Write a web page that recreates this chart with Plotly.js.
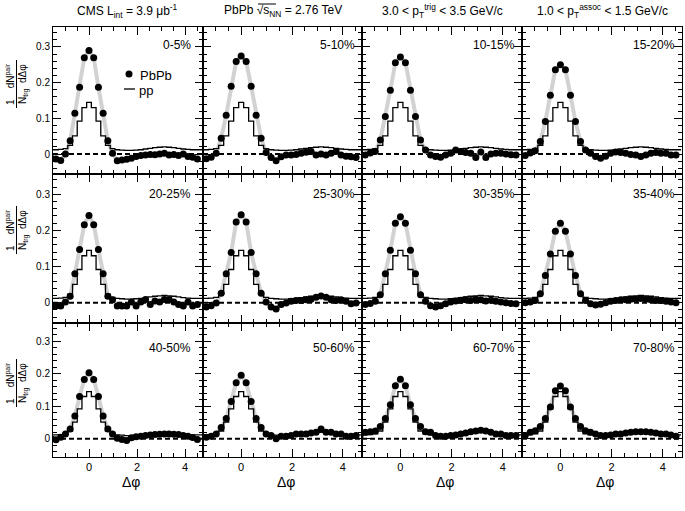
<!DOCTYPE html>
<html>
<head>
<meta charset="utf-8">
<script src="https://cdn.plot.ly/plotly-3.0.1.min.js"></script>
<style>html,body{margin:0;padding:0;background:#fff;}#chart{width:685px;height:511px;}</style>
</head>
<body>
<div id="chart"></div>
<script>
// Bin centres in delta-phi (k*pi/16)
const dphi = [-1.5708,-1.3744,-1.1781,-0.9817,-0.7854,-0.5890,-0.3927,-0.1963,0,0.1963,0.3927,0.5890,0.7854,0.9817,1.1781,1.3744,1.5708,1.7671,1.9635,2.1598,2.3562,2.5525,2.7489,2.9452,3.1416,3.3379,3.5343,3.7306,3.9270,4.1233,4.3197,4.5160];
const dphiPP = [-1.5708,-1.3744,-1.1781,-0.9817,-0.7854,-0.5890,-0.3927,-0.1963,0,0.1963,0.3927,0.5890,0.7854,0.9817,1.1781,1.3744,1.5708,1.7671,1.9635,2.1598,2.3562,2.5525,2.7489,2.9452,3.1416,3.3379,3.5343,3.7306,3.9270,4.1233,4.3197,4.5160,4.7124];
// pp reference (histogram)
const ppRef = [0.012,0.012,0.013,0.015,0.024,0.051,0.092,0.130,0.145,0.130,0.092,0.051,0.024,0.015,0.012,0.011,0.010,0.010,0.011,0.012,0.014,0.016,0.018,0.019,0.020,0.019,0.018,0.016,0.014,0.013,0.012,0.012,0.012];
// PbPb per centrality class
const pbpb_0_5   = [-0.012,-0.014,-0.018,0.000,0.037,0.114,0.187,0.270,0.290,0.270,0.187,0.114,0.037,0.002,-0.019,-0.017,-0.015,-0.012,-0.007,-0.004,-0.003,-0.001,-0.002,0.000,0.002,-0.003,-0.001,-0.004,0.000,-0.007,-0.009,-0.014];
const pbpb_5_10  = [-0.015,-0.013,-0.009,0.002,0.044,0.109,0.190,0.259,0.275,0.259,0.190,0.109,0.044,0.004,-0.010,-0.019,-0.008,-0.003,-0.003,-0.001,0.002,0.005,0.007,-0.003,0.000,-0.003,0.002,0.007,-0.003,-0.006,-0.008,-0.010];
const pbpb_10_15 = [-0.004,-0.003,0.003,0.007,0.039,0.105,0.179,0.256,0.272,0.256,0.179,0.105,0.039,0.011,-0.003,-0.007,-0.009,-0.003,0.002,0.011,0.007,0.004,0.002,-0.010,0.006,-0.010,0.000,0.002,0.002,0.000,-0.002,-0.003];
const pbpb_15_20 = [-0.007,-0.004,0.003,0.009,0.035,0.091,0.165,0.236,0.250,0.236,0.165,0.091,0.035,0.011,0.002,-0.007,-0.012,-0.006,0.002,0.006,0.004,0.002,-0.001,-0.003,-0.007,-0.003,0.002,0.004,0.002,0.002,-0.003,-0.003];
const pbpb_20_25 = [-0.009,-0.009,-0.009,0.002,0.018,0.080,0.147,0.216,0.241,0.216,0.147,0.080,0.018,0.008,-0.009,-0.009,-0.009,0.002,-0.009,0.002,0.009,-0.005,0.005,0.002,0.009,0.009,0.002,-0.005,-0.009,0.002,-0.009,-0.005];
const pbpb_25_30 = [-0.012,-0.012,-0.008,-0.001,0.026,0.080,0.139,0.223,0.243,0.223,0.139,0.080,0.026,0.002,-0.012,-0.017,-0.005,-0.001,0.004,0.006,0.006,0.008,0.010,0.015,0.019,0.015,0.008,0.006,0.008,0.004,-0.003,-0.001];
const pbpb_30_35 = [-0.005,-0.005,-0.002,0.004,0.022,0.080,0.145,0.220,0.238,0.220,0.145,0.080,0.022,0.004,-0.008,-0.012,-0.008,-0.003,0.002,0.005,0.007,0.008,0.006,0.010,0.008,0.005,0.007,0.004,0.002,0.000,-0.002,-0.003];
const pbpb_35_40 = [-0.002,0.000,0.002,0.006,0.025,0.075,0.135,0.198,0.220,0.198,0.135,0.075,0.025,0.006,-0.003,-0.006,-0.004,0.000,0.004,0.006,0.008,0.008,0.010,0.010,0.012,0.010,0.008,0.006,0.006,0.004,0.002,0.000];
const pbpb_40_50 = [0.000,-0.003,0.005,0.015,0.030,0.070,0.130,0.182,0.203,0.182,0.130,0.070,0.030,0.015,0.002,-0.002,-0.005,0.003,0.006,0.008,0.010,0.012,0.013,0.014,0.015,0.015,0.014,0.013,0.010,0.008,0.004,-0.002];
const pbpb_50_60 = [0.005,0.005,0.008,0.015,0.035,0.062,0.115,0.172,0.195,0.172,0.115,0.062,0.035,0.015,0.010,0.000,0.008,0.008,0.010,0.015,0.015,0.015,0.018,0.020,0.030,0.020,0.020,0.015,0.015,0.008,0.008,0.010];
const pbpb_60_70 = [0.010,0.020,0.022,0.024,0.038,0.062,0.105,0.163,0.183,0.163,0.105,0.062,0.038,0.022,0.020,0.010,0.008,0.008,0.010,0.012,0.015,0.018,0.022,0.024,0.026,0.024,0.020,0.015,0.015,0.010,0.010,0.010];
const pbpb_70_80 = [0.010,0.010,0.020,0.025,0.038,0.062,0.098,0.148,0.162,0.148,0.098,0.062,0.038,0.025,0.020,0.015,0.010,0.010,0.012,0.015,0.015,0.018,0.020,0.022,0.022,0.022,0.020,0.018,0.015,0.015,0.012,0.008];

const centralityLabels = ['0-5%','5-10%','10-15%','15-20%','20-25%','25-30%','30-35%','35-40%','40-50%','50-60%','60-70%','70-80%'];
const pbpbSeries = [pbpb_0_5,pbpb_5_10,pbpb_10_15,pbpb_15_20,pbpb_20_25,pbpb_25_30,pbpb_30_35,pbpb_35_40,pbpb_40_50,pbpb_50_60,pbpb_60_70,pbpb_70_80];
const headerTexts = ['CMS L<sub>int</sub> = 3.9 \u03bcb<sup>-1</sup>', 'PbPb \u221as<sub>NN</sub> = 2.76 TeV', '3.0 < p<sub>T</sub><sup>trig</sup> < 3.5 GeV/c', '1.0 < p<sub>T</sub><sup>assoc</sup> < 1.5 GeV/c'];
const yTickVals = [0,0.1,0.2,0.3];
const yTickText = ['0','0.1','0.2','0.3'];
const xTickVals = [0,2,4];
const xTickText = ['0','2','4'];

// ---- layout geometry (pixels) ----
const W = 685, H = 511;
const colPx = [[53,203],[203,362],[362,522],[522,682]];
const rowPx = [[27,174],[174,323],[323,457]];
const labelRight = [193,357,517,677];
const labelY = [45,194,348];
const yLabelCenter = [84,230,383];
const FONT = 'Liberation Sans, Arial, Helvetica, sans-serif';
const px = v => v / W;
const py = v => 1 - v / H;

const traces = [];
const layout = {
  width: W, height: H,
  margin: {l:0, r:0, t:0, b:0},
  paper_bgcolor: '#fff', plot_bgcolor: '#fff',
  showlegend: false,
  font: {family: FONT, color: '#000'},
  annotations: [], shapes: []
};

for (let i = 0; i < 12; i++) {
  const row = Math.floor(i / 4), col = i % 4;
  const id = i === 0 ? '' : String(i + 1);
  const xa = 'x' + id, ya = 'y' + id;
  const vals = pbpbSeries[i];

  traces.push({x: dphi, y: vals, xaxis: xa, yaxis: ya, mode: 'lines',
    line: {color: '#d2d2d2', width: 4}, hoverinfo: 'skip'});
  traces.push({x: dphiPP, y: ppRef, xaxis: xa, yaxis: ya, mode: 'lines',
    line: {color: '#000', width: 1.3, shape: 'hvh'}, hoverinfo: 'skip'});
  traces.push({x: dphi, y: vals, xaxis: xa, yaxis: ya, mode: 'markers',
    marker: {symbol: 'circle', size: 7, color: '#000'}, hoverinfo: 'skip'});

  layout['xaxis' + id] = {
    domain: [px(colPx[col][0]), px(colPx[col][1])],
    range: [-1.5, 4.75], anchor: ya,
    tickmode: 'array', tickvals: xTickVals, ticktext: xTickText,
    ticks: 'inside', ticklen: 8, tickwidth: 1, tickcolor: '#000',
    minor: {dtick: 0.5, tick0: 0, ticks: 'inside', ticklen: 4, tickcolor: '#000', tickwidth: 1},
    showline: true, linecolor: '#000', linewidth: 1, mirror: 'allticks',
    showgrid: false, zeroline: false,
    showticklabels: row === 2, tickfont: {family: FONT, size: 11, color: '#000'},
    fixedrange: true
  };
  layout['yaxis' + id] = {
    domain: [py(rowPx[row][1]), py(rowPx[row][0])],
    range: [-0.056, 0.356], anchor: xa,
    tickmode: 'array', tickvals: yTickVals, ticktext: yTickText,
    ticks: 'inside', ticklen: 8, tickwidth: 1, tickcolor: '#000',
    minor: {dtick: 0.02, tick0: 0, ticks: 'inside', ticklen: 4, tickcolor: '#000', tickwidth: 1},
    showline: true, linecolor: '#000', linewidth: 1, mirror: 'allticks',
    showgrid: false, zeroline: false,
    showticklabels: col === 0, tickfont: {family: FONT, size: 10, color: '#000'},
    fixedrange: true
  };

  // dashed zero line
  layout.shapes.push({type: 'line', layer: 'below', xref: xa + ' domain', x0: 0, x1: 1,
    yref: ya, y0: 0, y1: 0, line: {color: '#000', width: 2, dash: '5px,3px'}});

  // centrality label
  layout.annotations.push({xref: 'paper', yref: 'paper', x: px(labelRight[col]), y: py(labelY[row]),
    xanchor: 'right', yanchor: 'middle', showarrow: false, text: centralityLabels[i],
    font: {family: FONT, size: 12, color: '#000'}});
}

// top headers
for (let c = 0; c < 4; c++) {
  const cx = (colPx[c][0] + colPx[c][1]) / 2;
  layout.annotations.push({xref: 'paper', yref: 'paper', x: px(cx), y: py(11),
    xanchor: 'center', yanchor: 'middle', showarrow: false, text: headerTexts[c],
    font: {family: FONT, size: 12, color: '#000'}});
  // x titles on bottom row
  layout.annotations.push({xref: 'paper', yref: 'paper', x: px(cx + 3), y: py(482),
    xanchor: 'center', yanchor: 'middle', showarrow: false, text: '\u0394\u03c6',
    font: {family: FONT, size: 14, color: '#000'}});
}
// overline of the square root in the second header
layout.shapes.push({type: 'line', xref: 'paper', yref: 'paper',
  x0: px(258), x1: px(276), y0: py(4), y1: py(4), line: {color: '#000', width: 1}});

// y-axis fraction labels
for (let r = 0; r < 3; r++) {
  const cy = yLabelCenter[r];
  layout.annotations.push({xref: 'paper', yref: 'paper', x: px(10), y: py(cy),
    xanchor: 'center', yanchor: 'middle', textangle: -90, showarrow: false,
    text: '1&nbsp;&nbsp;&nbsp;&nbsp;dN<sup>pair</sup>', font: {family: FONT, size: 10, color: '#000'}});
  layout.annotations.push({xref: 'paper', yref: 'paper', x: px(23), y: py(cy),
    xanchor: 'center', yanchor: 'middle', textangle: -90, showarrow: false,
    text: 'N<sub>trg</sub>&nbsp;&nbsp;d\u0394\u03c6', font: {family: FONT, size: 10, color: '#000'}});
  layout.shapes.push({type: 'line', xref: 'paper', yref: 'paper',
    x0: px(16.5), x1: px(16.5), y0: py(cy - 24), y1: py(cy + 24), line: {color: '#000', width: 1}});
}

// legend in first panel
layout.shapes.push({type: 'circle', xref: 'paper', yref: 'paper',
  x0: px(125.5), x1: px(132.5), y0: py(77.5), y1: py(70.5), fillcolor: '#000', line: {color: '#000', width: 0}});
layout.shapes.push({type: 'line', xref: 'paper', yref: 'paper',
  x0: px(124), x1: px(135), y0: py(89), y1: py(89), line: {color: '#000', width: 1.3}});
layout.annotations.push({xref: 'paper', yref: 'paper', x: px(138), y: py(75),
  xanchor: 'left', yanchor: 'middle', showarrow: false, text: 'PbPb', font: {family: FONT, size: 13, color: '#000'}});
layout.annotations.push({xref: 'paper', yref: 'paper', x: px(137), y: py(90),
  xanchor: 'left', yanchor: 'middle', showarrow: false, text: 'pp', font: {family: FONT, size: 13, color: '#000'}});

Plotly.newPlot('chart', traces, layout, {staticPlot: true, displayModeBar: false});
</script>
</body>
</html>
